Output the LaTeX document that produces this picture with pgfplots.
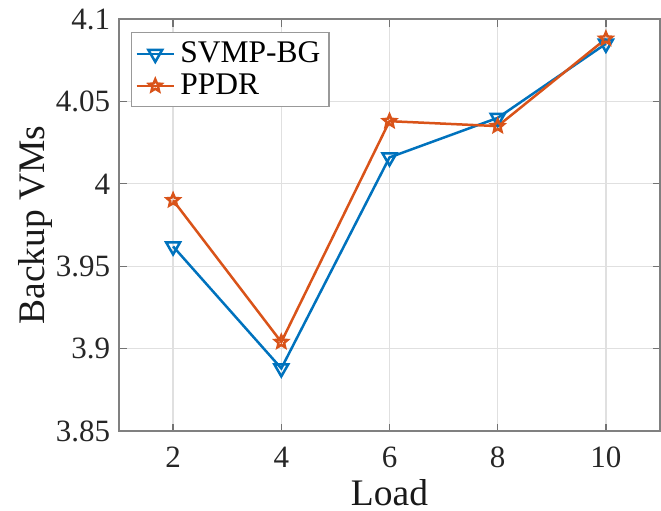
\documentclass[border=0pt]{standalone}
\usepackage{fontspec}
\setmainfont{Liberation Serif}
\usepackage{pgfplots}
\pgfplotsset{compat=1.18}
\usetikzlibrary{plotmarks}
\definecolor{mblue}{RGB}{0,114,189}
\definecolor{morange}{RGB}{217,83,25}

% five-pointed outline star, like MATLAB's 'p'
\pgfdeclareplotmark{pentagram}{%
  \pgfpathmoveto{\pgfpointpolar{90}{\pgfplotmarksize}}%
  \pgfpathlineto{\pgfpointpolar{126}{0.45\pgfplotmarksize}}%
  \pgfpathlineto{\pgfpointpolar{162}{\pgfplotmarksize}}%
  \pgfpathlineto{\pgfpointpolar{198}{0.45\pgfplotmarksize}}%
  \pgfpathlineto{\pgfpointpolar{234}{\pgfplotmarksize}}%
  \pgfpathlineto{\pgfpointpolar{270}{0.45\pgfplotmarksize}}%
  \pgfpathlineto{\pgfpointpolar{306}{\pgfplotmarksize}}%
  \pgfpathlineto{\pgfpointpolar{342}{0.45\pgfplotmarksize}}%
  \pgfpathlineto{\pgfpointpolar{18}{\pgfplotmarksize}}%
  \pgfpathlineto{\pgfpointpolar{54}{0.45\pgfplotmarksize}}%
  \pgfpathclose\pgfusepathqstroke}

\begin{document}
\begin{tikzpicture}
\begin{axis}[
  scale only axis,
  width=216.4pt,height=164.8pt,
  xmin=1,xmax=11,ymin=3.85,ymax=4.1,
  xtick={2,4,6,8,10},
  ytick={3.85,3.9,3.95,4,4.05,4.1},
  /pgf/number format/assume math mode=true,
  /pgf/number format/fixed,
  /pgf/number format/precision=2,
  tick align=inside,
  tick pos=both,
  major tick length=3pt,
  every tick/.style={black!55,line width=0.5pt},
  axis line style={black!50,line width=0.6pt},
  grid=major,
  grid style={black!12,line width=0.5pt},
  ticklabel style={font=\fontsize{12.4}{14}\selectfont,text=black!85},
  xticklabel style={yshift=-3pt},
  xlabel={Load},
  ylabel={Backup VMs},
  label style={font=\fontsize{15}{17}\selectfont,text=black!90},
  x label style={at={(axis description cs:0.5,-0.15)},anchor=center},
  y label style={at={(axis description cs:-0.155,0.5)},anchor=center},
  legend style={
    at={(axis description cs:0.022,0.968)},anchor=north west,
    draw=black!40,fill=white,line width=0.5pt,
    font=\fontsize{12.6}{13}\selectfont,
    inner xsep=1.5pt,inner ysep=1.5pt,row sep=-1pt,
    cells={anchor=west},
  },
  legend image code/.code={%
    \draw[mark repeat=2,mark phase=2] plot coordinates {(0pt,0pt) (7.5pt,0pt) (15pt,0pt)};},
  clip=false,
]
\addplot[mblue,line width=1pt,mark=triangle,mark size=3.2pt,
  mark options={rotate=180,solid,fill=white}] coordinates {
  (2,3.962) (4,3.888) (6,4.016) (8,4.040) (10,4.085)
};
\addlegendentry{SVMP-BG}
\addplot[morange,line width=1pt,mark=pentagram,mark size=2.6pt,
  mark options={solid}] coordinates {
  (2,3.990) (4,3.904) (6,4.038) (8,4.035) (10,4.088)
};
\addlegendentry{PPDR}
\coordinate (bl) at (rel axis cs:0,0);
\coordinate (tr) at (rel axis cs:1,1);
\end{axis}
\pgfresetboundingbox
\path[use as bounding box] ([shift={(-47.6pt,-31.6pt)}]bl) rectangle ([shift={(0.4pt,7.6pt)}]tr);
\end{tikzpicture}
\end{document}
